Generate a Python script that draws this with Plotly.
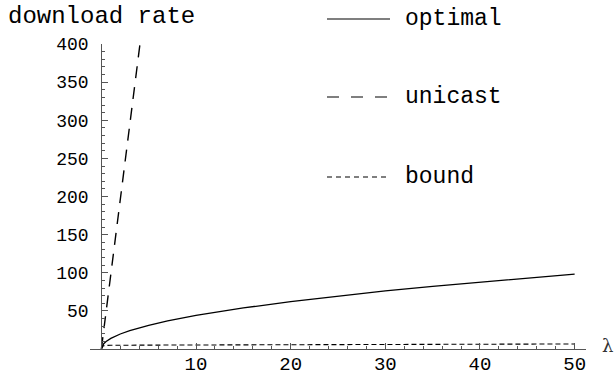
import plotly.graph_objects as go

# ---- data ----
opt_x = [0, 0.25, 0.5, 1, 2, 3, 5, 7, 10, 15, 20, 25, 30, 35, 40, 45, 50]
opt_y = [0, 7.0, 9.8, 13.9, 19.7, 24.1, 31.1, 36.8, 44.0, 53.8, 62.2, 69.5, 76.1, 82.2, 87.9, 93.2, 98.3]

uni_x = [0, 4.08]
uni_y = [0, 400]

bnd_x = [0, 0.1, 0.2, 0.5, 1, 5, 10, 20, 30, 40, 50]
bnd_y = [0, 3.5, 4.3, 4.7, 4.9, 5.1, 5.3, 5.7, 6.0, 6.3, 6.6]

x_ticks = [10, 20, 30, 40, 50]
y_ticks = [50, 100, 150, 200, 250, 300, 350, 400]

legend_names = ["optimal", "unicast", "bound"]
y_title = "download rate"
x_title = "λ"

# ---- layout constants (page pixels) ----
W, H = 616, 378
PL, PR, PT, PB = 90, 586, 44, 349          # plot area
L, T, R, B = PL, PT, W - PR, H - PB
XMIN, XMAX = -1.2, 51.2
PW, PH = PR - PL, PB - PT

def px(xp):
    return (xp - PL) / PW

def py(yp):
    return (PB - yp) / PH

MONO = "Liberation Mono"
AX = "#555555"

fig = go.Figure()
fig.add_trace(go.Scatter(x=opt_x, y=opt_y, mode="lines", name=legend_names[0],
                         line=dict(color="black", width=1.3)))
fig.add_trace(go.Scatter(x=uni_x, y=uni_y, mode="lines", name=legend_names[1],
                         line=dict(color="black", width=1.4, dash="12px,9px")))
fig.add_trace(go.Scatter(x=bnd_x, y=bnd_y, mode="lines", name=legend_names[2],
                         line=dict(color="black", width=1.1, dash="5px,3px")))

# legend drawn manually
leg_y = [19, 97, 177]
dashes = ["solid", "12px,12px", "5px,4px"]
shapes = []
annotations = []
for name, yy, d in zip(legend_names, leg_y, dashes):
    shapes.append(dict(type="line", xref="paper", yref="paper",
                       x0=px(327), x1=px(390), y0=py(yy), y1=py(yy),
                       line=dict(color="black", width=1.1, dash=d)))
    annotations.append(dict(x=px(403), y=py(yy), xref="paper", yref="paper",
                            text=name, showarrow=False, xanchor="left", yanchor="middle",
                            font=dict(family=MONO, size=23, color="black")))

annotations.append(dict(x=px(6), y=py(17), xref="paper", yref="paper", text=y_title,
                        showarrow=False, xanchor="left", yanchor="middle",
                        font=dict(family=MONO, size=24, color="black")))
annotations.append(dict(x=px(615), y=py(345), xref="paper", yref="paper", text=x_title,
                        showarrow=False, xanchor="right", yanchor="middle",
                        font=dict(family="DejaVu Serif", size=18, color="#333333")))

fig.update_layout(
    width=W, height=H,
    margin=dict(l=L, r=R, t=T, b=B, pad=0, autoexpand=False),
    paper_bgcolor="white", plot_bgcolor="white",
    showlegend=False,
    shapes=shapes, annotations=annotations,
    xaxis=dict(range=[XMIN, XMAX], tickmode="array", tickvals=x_ticks,
               ticktext=[str(v) for v in x_ticks],
               ticks="inside", ticklen=6, tickcolor=AX, tickwidth=1,
               minor=dict(tickmode="linear", tick0=0, dtick=2, ticks="inside",
                          ticklen=3, tickcolor=AX),
               showline=True, linecolor=AX, linewidth=1.2,
               showgrid=False, zeroline=False, automargin=False,
               tickfont=dict(family=MONO, size=19, color="black"),
               ticklabelstandoff=-3),
    yaxis=dict(range=[0, 400], tickmode="array", tickvals=y_ticks,
               ticktext=[str(v) for v in y_ticks],
               ticks="inside", ticklen=6, tickcolor=AX, tickwidth=1,
               minor=dict(tickmode="linear", tick0=0, dtick=10, ticks="inside",
                          ticklen=3, tickcolor=AX),
               showline=True, linecolor=AX, linewidth=1.2,
               showgrid=False, zeroline=False, automargin=False,
               anchor="free", position=(0 - XMIN) / (XMAX - XMIN),
               tickfont=dict(family=MONO, size=18, color="black"),
               ticklabelstandoff=9),
)

fig.write_html("out.html", config={"displayModeBar": False},
               post_script="document.body.style.margin='0';document.body.style.padding='0';")
